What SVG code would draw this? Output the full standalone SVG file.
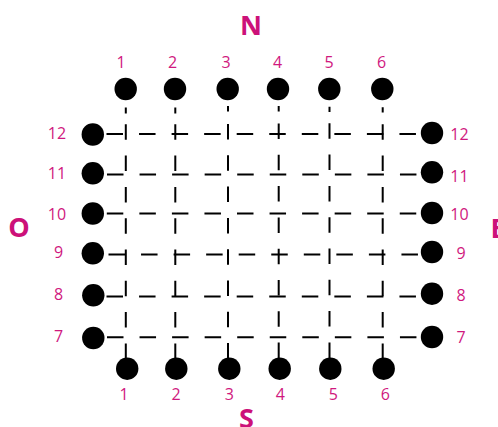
<svg xmlns="http://www.w3.org/2000/svg" width="498" height="427" viewBox="0 0 498 427">
<style>
.dot{fill:#000}
.num{font-family:"Open Sans","Liberation Sans",sans-serif;font-size:16px;fill:#d0187e;text-anchor:middle}
.big{font-family:"Open Sans","Liberation Sans",sans-serif;font-size:27px;font-weight:bold;fill:#cc1179;text-anchor:middle}
.h{stroke:#000;stroke-width:2;fill:none;stroke-dasharray:16.5 16.05}
.v{stroke:#000;stroke-width:2;fill:none;stroke-dasharray:15.5 15.8}
.s{stroke:#000;stroke-width:2;fill:none}
</style>
<rect width="498" height="427" fill="#fff"/>
<g id="connectors">
  <line class="h" x1="106.5" y1="134" x2="421" y2="134"/>
  <line class="h" x1="107" y1="174.5" x2="421" y2="174.5"/>
  <line class="h" x1="106.8" y1="213.5" x2="421" y2="213.5"/>
  <line class="h" x1="108.5" y1="254.5" x2="421" y2="254.5"/>
  <line class="h" x1="106.5" y1="296.5" x2="421" y2="296.5"/>
  <line class="h" x1="107" y1="337.3" x2="421" y2="337.3"/>
  <path class="s" d="M125.8 107.5V113.5M175.3 107.5V113.5M228 106V111.5M278.7 106V111.5M329.5 106.7V112M382.7 107.3V112.5"/>
  <line class="v" x1="125.8" y1="124.3" x2="125.8" y2="358"/>
  <line class="v" x1="175.3" y1="124.3" x2="175.3" y2="358"/>
  <line class="v" x1="228" y1="124" x2="228" y2="358"/>
  <line class="v" x1="278.7" y1="123.5" x2="278.7" y2="358"/>
  <line class="v" x1="329.5" y1="123.3" x2="329.5" y2="358"/>
  <line class="v" x1="382.7" y1="124.3" x2="382.7" y2="358"/>
</g>
<g id="north">
  <g id="n1"><circle class="dot" cx="125.7" cy="89" r="11.2"/><text class="num" x="121" y="68">1</text></g>
  <g id="n2"><circle class="dot" cx="175" cy="89" r="11.2"/><text class="num" x="172.5" y="68">2</text></g>
  <g id="n3"><circle class="dot" cx="227.7" cy="89" r="11.2"/><text class="num" x="226" y="68">3</text></g>
  <g id="n4"><circle class="dot" cx="278" cy="89" r="11.2"/><text class="num" x="277.5" y="68">4</text></g>
  <g id="n5"><circle class="dot" cx="329.3" cy="89" r="11.2"/><text class="num" x="329" y="68">5</text></g>
  <g id="n6"><circle class="dot" cx="382.3" cy="89" r="11.2"/><text class="num" x="381.5" y="68">6</text></g>
</g>
<g id="south">
  <g id="s1"><circle class="dot" cx="127.2" cy="368.7" r="11.2"/><text class="num" x="124" y="399.5">1</text></g>
  <g id="s2"><circle class="dot" cx="176.3" cy="368.7" r="11.2"/><text class="num" x="176" y="399.5">2</text></g>
  <g id="s3"><circle class="dot" cx="229.3" cy="368.7" r="11.2"/><text class="num" x="229.3" y="399.5">3</text></g>
  <g id="s4"><circle class="dot" cx="279.7" cy="368.7" r="11.2"/><text class="num" x="280.3" y="399.5">4</text></g>
  <g id="s5"><circle class="dot" cx="330.3" cy="368.7" r="11.2"/><text class="num" x="333.3" y="399.5">5</text></g>
  <g id="s6"><circle class="dot" cx="383.7" cy="368.7" r="11.2"/><text class="num" x="385.3" y="399.5">6</text></g>
</g>
<g id="west">
  <g id="w12"><circle class="dot" cx="92.8" cy="134.5" r="11.2"/><text class="num" x="57" y="139.3">12</text></g>
  <g id="w11"><circle class="dot" cx="92.8" cy="173.3" r="11.2"/><text class="num" x="57" y="179">11</text></g>
  <g id="w10"><circle class="dot" cx="92.8" cy="213.5" r="11.2"/><text class="num" x="57" y="220">10</text></g>
  <g id="w9"><circle class="dot" cx="92.8" cy="253.3" r="11.2"/><text class="num" x="58.5" y="257.5">9</text></g>
  <g id="w8"><circle class="dot" cx="93.3" cy="295.3" r="11.2"/><text class="num" x="58.5" y="299.5">8</text></g>
  <g id="w7"><circle class="dot" cx="93.3" cy="338" r="11.2"/><text class="num" x="58.5" y="341.8">7</text></g>
</g>
<g id="east">
  <g id="e12"><circle class="dot" cx="432" cy="133" r="11.2"/><text class="num" x="459.5" y="140">12</text></g>
  <g id="e11"><circle class="dot" cx="432" cy="172.3" r="11.2"/><text class="num" x="459.5" y="181.5">11</text></g>
  <g id="e10"><circle class="dot" cx="432" cy="213" r="11.2"/><text class="num" x="459.5" y="220">10</text></g>
  <g id="e9"><circle class="dot" cx="432" cy="252" r="11.2"/><text class="num" x="461" y="259.3">9</text></g>
  <g id="e8"><circle class="dot" cx="432" cy="293.7" r="11.2"/><text class="num" x="461" y="300.7">8</text></g>
  <g id="e7"><circle class="dot" cx="432" cy="337" r="11.2"/><text class="num" x="461" y="342.7">7</text></g>
</g>
<g id="compass">
  <text class="big" x="251" y="35">N</text>
  <text class="big" x="19" y="237">O</text>
  <text class="big" x="490.5" y="238" style="text-anchor:start">E</text>
  <text class="big" x="246.5" y="428">S</text>
</g>
</svg>
